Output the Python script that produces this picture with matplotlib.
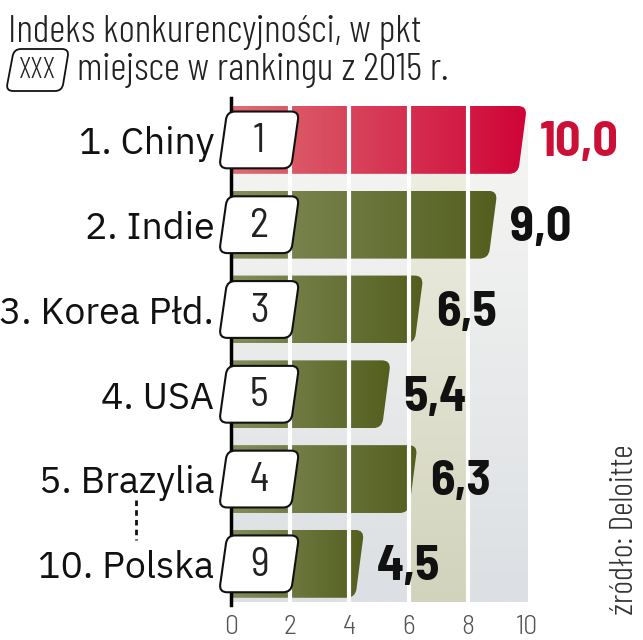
import numpy as np
import matplotlib
matplotlib.use("Agg")
import matplotlib.pyplot as plt
from matplotlib.path import Path
from matplotlib.patches import PathPatch
from matplotlib.colors import LinearSegmentedColormap

plt.rcParams['font.family'] = ['IBM Plex Sans', 'DejaVu Sans']
BAR = ['Barlow Condensed', 'DejaVu Sans']
BARS = ['Barlow Semi Condensed', 'DejaVu Sans']

# data
countries = ["1. Chiny", "2. Indie", "3. Korea Płd.", "4. USA", "5. Brazylia", "10. Polska"]
rank_2015 = [1, 2, 3, 5, 4, 9]
values = [10.0, 9.0, 6.5, 5.4, 6.3, 4.5]
ticks = [0, 2, 4, 6, 8, 10]

W, H = 643, 640
fig = plt.figure(figsize=(W / 100, H / 100), dpi=100)
ax = fig.add_axes([231 / W, (H - 602) / H, 296 / W, 496 / H])
XLIM = (0, 10)
YLIM = (5.45, -0.40)
sx = 296 / (XLIM[1] - XLIM[0])      # px per unit x
sy = 496 / (YLIM[0] - YLIM[1])      # px per unit y (downwards)


def rounded(verts, radii):
    # polygon in pixel space with rounded corners -> vertices, codes
    pts = np.asarray(verts, float)
    n = len(pts)
    out, codes = [], []
    for i in range(n):
        p, prev, nxt = pts[i], pts[i - 1], pts[(i + 1) % n]
        r = radii[i]
        d1 = (prev - p) / np.linalg.norm(prev - p)
        d2 = (nxt - p) / np.linalg.norm(nxt - p)
        a, b = p + d1 * r, p + d2 * r
        out.append(a)
        codes.append(Path.MOVETO if i == 0 else Path.LINETO)
        out += [p, b]
        codes += [Path.CURVE3, Path.CURVE3]
    out.append(out[0])
    codes.append(Path.CLOSEPOLY)
    return np.array(out), codes


def data_path(verts, radii):
    px = np.asarray(verts, float) * [sx, sy]
    v, c = rounded(px, radii)
    return Path(v / [sx, sy], c)


# background columns with vertical gradient
gray = LinearSegmentedColormap.from_list("g", ["#f7f7f4", "#dcdfe3"])
beige = LinearSegmentedColormap.from_list("b", ["#f1f1e7", "#d2d3bc"])
vgrad = np.linspace(0, 1, 256).reshape(-1, 1)
for x0 in range(0, 10, 2):
    ax.imshow(vgrad, extent=(x0, x0 + 2, YLIM[0], YLIM[1]), aspect='auto',
              cmap=beige if x0 == 6 else gray, zorder=0)

# bars with horizontal gradient and slanted, rounded right end
red = LinearSegmentedColormap.from_list("r", ["#de6e72", "#cf0438"])
green = LinearSegmentedColormap.from_list("gr", ["#838d5a", "#535e1e"])
hgrad = np.linspace(0, 1, 256).reshape(1, -1)
h = 0.80
slant = 0.3
for i, v in enumerate(values):
    verts = [(0, i - h / 2), (v, i - h / 2), (v - slant, i + h / 2), (0, i + h / 2)]
    patch = PathPatch(data_path(verts, [0, 9, 9, 0]), facecolor='none',
                      edgecolor='none', transform=ax.transData)
    ax.add_patch(patch)
    im = ax.imshow(hgrad, extent=(0, v, i + h / 2, i - h / 2), aspect='auto',
                   cmap=red if i == 0 else green, zorder=2)
    im.set_clip_path(patch)

for x in [2, 4, 6, 8]:
    ax.axvline(x, color='white', lw=3, zorder=3)

ax.plot([0, 0], [-0.5, 5.48], color='black', lw=2.5, clip_on=False, zorder=4)

# rank boxes
bw, bh, bk = 72 / sx, 0.67, 8 / sx
bcx = 0.95
for i, r in enumerate(rank_2015):
    verts = [(bcx - bw / 2 + bk / 2, i - bh / 2), (bcx + bw / 2 + bk / 2, i - bh / 2),
             (bcx + bw / 2 - bk / 2, i + bh / 2), (bcx - bw / 2 - bk / 2, i + bh / 2)]
    ax.add_patch(PathPatch(data_path(verts, [8, 8, 8, 8]), facecolor='white',
                           edgecolor='#111111', lw=1.5, zorder=5, clip_on=False))
    ax.text(bcx, i + 0.02, str(r), ha='center', va='center', fontsize=29,
            family=BARS, color='#222222', zorder=6)

# country labels and values
for i, (c, v) in enumerate(zip(countries, values)):
    ax.text(-0.57, i + 0.05, c, ha='right', va='center', fontsize=27, color='#111111')
    ax.text(v + 0.42, i + 0.04, f"{v:.1f}".replace('.', ','), ha='left', va='center',
            fontsize=36, fontweight='bold', family=BARS,
            color='#cc0f36' if i == 0 else '#111111')

ax.plot([-3.2, -3.2], [4.245, 4.717], color='#111111', lw=2, ls=(0, (2, 1.5)),
        clip_on=False)

ax.set_xlim(*XLIM)
ax.set_ylim(*YLIM)
ax.set_xticks(ticks)
ax.set_xticklabels([str(t) for t in ticks], fontsize=20, color='#555555',
                   family=BARS, fontweight=300)
ax.tick_params(axis='x', length=0, pad=9)
ax.set_yticks([])
for s in ax.spines.values():
    s.set_visible(False)

# title
fig.text(8 / W, 1 - 42 / H, "Indeks konkurencyjności, w pkt", fontsize=28.5,
         family=BAR, fontweight=300, color='#222222', va='baseline')
v, c = rounded([(14, 49), (69, 49), (62, 91), (6, 91)], [7, 7, 7, 7])
v = np.column_stack([v[:, 0] / W, 1 - v[:, 1] / H])
fig.patches.append(PathPatch(Path(v, c), facecolor='white', edgecolor='#111111',
                             lw=1.3, transform=fig.transFigure))
fig.text(37 / W, 1 - 71 / H, "XXX", fontsize=21, ha='center', va='center',
         family=BAR, fontweight=300, color='#222222')
fig.text(77 / W, 1 - 80 / H, "miejsce w rankingu z 2015 r.", fontsize=28.5,
         family=BAR, fontweight=300, color='#222222', va='baseline')

fig.text(625 / W, 1 - 530 / H, "źródło: Deloitte", rotation=90, fontsize=24,
         family=BAR, fontweight=300, ha='center', va='center', color='#333333')

fig.savefig("out.png", dpi=100)
